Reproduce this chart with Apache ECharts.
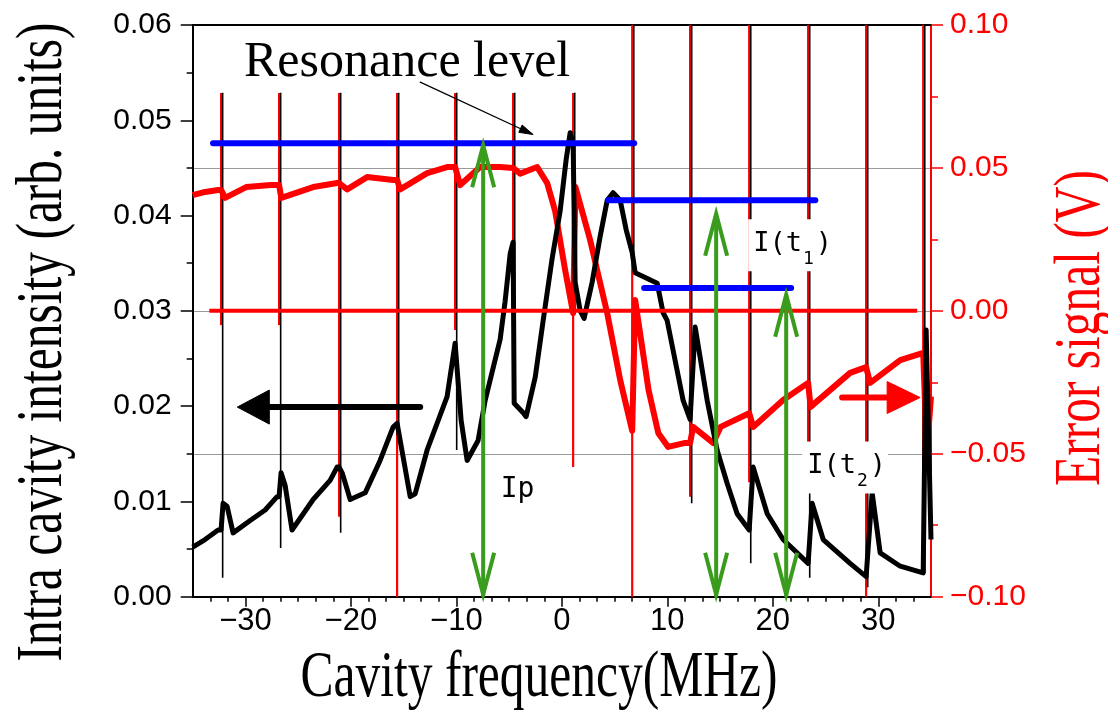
<!DOCTYPE html>
<html>
<head>
<meta charset="utf-8">
<script src="https://cdn.jsdelivr.net/npm/echarts@6/dist/echarts.min.js"></script>
<style>html,body{margin:0;padding:0;background:#fff;}#c{width:1108px;height:716px;}</style>
</head>
<body>
<div id="c"></div>
<script>
// ---------------- data (MHz, values) ----------------
const xMajorTicks = [-30, -20, -10, 0, 10, 20, 30];
const xMinorTicks = [-33.333, -31.667, -28.333, -26.667, -25, -23.333, -21.667, -18.333, -16.667, -15, -13.333, -11.667,
  -8.333, -6.667, -5, -3.333, -1.667, 1.667, 3.333, 5, 6.667, 8.333, 11.667, 13.333, 15, 16.667, 18.333,
  21.667, 23.333, 25, 26.667, 28.333, 31.667, 33.333];

// intra cavity intensity (left axis)
const blackTrace = [[-35.0, 0.0052], [-33.83, 0.0060], [-32.59, 0.0070], [-32.31, 0.0070], [-32.12, 0.0098], [-31.74, 0.0095],
  [-31.17, 0.0067], [-29.55, 0.0080], [-28.13, 0.0091], [-27.0, 0.0105], [-26.81, 0.0105], [-26.62, 0.0130], [-26.24, 0.0117],
  [-25.58, 0.0070], [-23.58, 0.0102], [-21.97, 0.0122], [-21.31, 0.0136], [-21.12, 0.0136], [-20.83, 0.0130], [-20.07, 0.0102],
  [-18.65, 0.0109], [-17.23, 0.0143], [-16.0, 0.0178], [-15.62, 0.0182], [-15.33, 0.0164], [-14.38, 0.0105], [-13.91, 0.0108],
  [-12.77, 0.0154], [-10.88, 0.0210], [-10.12, 0.0266], [-9.55, 0.0185], [-8.98, 0.0143], [-7.94, 0.0164], [-7.27, 0.0206],
  [-5.85, 0.0270], [-5.38, 0.0310], [-4.90, 0.0360], [-4.62, 0.0372], [-4.52, 0.0203], [-3.67, 0.0193], [-3.39, 0.0189],
  [-2.53, 0.0230], [-1.77, 0.0290], [-0.92, 0.0355], [-0.16, 0.0405], [0.41, 0.0459], [0.79, 0.0487], [1.07, 0.0475],
  [1.26, 0.0330], [1.74, 0.0300], [2.11, 0.0292], [2.87, 0.0330], [3.63, 0.0378], [4.30, 0.0416], [4.86, 0.0424],
  [5.53, 0.0416], [6.10, 0.0385], [6.67, 0.0361], [6.95, 0.0340], [7.90, 0.0335], [9.04, 0.0329], [9.60, 0.0298],
  [9.98, 0.0290], [11.50, 0.0206], [12.16, 0.0186], [12.64, 0.0283], [13.78, 0.0206], [14.72, 0.0154], [15.67, 0.0119],
  [16.62, 0.0087], [17.76, 0.0070], [18.14, 0.0136], [19.47, 0.0087], [20.98, 0.0060], [23.35, 0.0035], [23.73, 0.0098],
  [24.78, 0.0060], [27.33, 0.0035], [28.85, 0.0021], [29.42, 0.0109], [30.18, 0.0046], [32.08, 0.0032], [34.26, 0.0025],
  [34.54, 0.0280], [35.0, 0.0060]];
// [x, low, high]
const blackSpikes = [[-32.16, 0.0020, 0.0529], [-26.66, 0.0051, 0.0529], [-20.97, 0.0067, 0.0529], [-15.47, 0.0164, 0.0529],
  [-9.97, 0.0154, 0.0529], [-4.47, 0.0203, 0.0529], [1.22, 0.0300, 0.0529], [6.82, 0.0340, 0.06], [12.31, 0.0098, 0.06],
  [17.91, 0.0035, 0.06], [23.50, 0.0020, 0.06], [29.00, 0.0010, 0.06], [34.41, 0.0025, 0.06]];

// error signal (right axis)
const redTrace = [[-35.0, 0.0405], [-33.83, 0.0416], [-32.59, 0.0423], [-32.31, 0.0423], [-31.93, 0.0395], [-29.93, 0.0433],
  [-27.57, 0.0440], [-26.81, 0.0440], [-26.6, 0.0395], [-23.58, 0.0433], [-21.31, 0.0447], [-21.12, 0.0447], [-20.36, 0.0425],
  [-18.46, 0.0468], [-15.99, 0.0458], [-15.62, 0.0458], [-15.33, 0.0425], [-12.77, 0.0482], [-10.88, 0.0503], [-10.12, 0.0503],
  [-9.64, 0.0440], [-7.75, 0.0503], [-5.85, 0.0503], [-4.62, 0.0500], [-3.95, 0.0480], [-2.34, 0.0503], [-1.39, 0.0447],
  [-0.64, 0.0350], [0.31, 0.0143], [1.07, -0.0008], [1.29, 0.0433], [2.68, 0.0248], [4.30, -0.0008], [5.53, -0.0242],
  [6.67, -0.0420], [6.95, 0.0038], [8.22, -0.0277], [9.14, -0.0427], [10.08, -0.0476], [11.69, -0.0462], [12.16, -0.0462],
  [12.45, -0.0406], [14.34, -0.0462], [15.05, -0.0406], [17.76, -0.0358], [18.14, -0.0406], [20.98, -0.0312], [23.35, -0.0252],
  [23.58, -0.0336], [27.33, -0.0217], [28.85, -0.0197], [29.23, -0.0252], [32.08, -0.0172], [34.26, -0.0147], [34.6, -0.0500],
  [35.0, -0.0300]];
const redSpikes = [[-32.31, -0.005, 0.0762], [-26.81, -0.005, 0.0762], [-21.12, -0.072, 0.0762], [-15.62, -0.1, 0.0762],
  [-10.12, -0.0067, 0.0762], [-4.62, -0.0039, 0.0762], [1.07, -0.0546, 0.0762], [6.67, -0.1, 0.1], [12.16, -0.065, 0.1],
  [17.76, -0.06, 0.1], [23.35, -0.06, 0.1], [28.85, -0.1, 0.1], [34.26, -0.06, 0.1]];
const errorZeroLine = [[-33.42, 0], [33.69, 0]];

// annotations (left axis units)
const resonanceLevels = [[-33.07, 6.86, 0.0476], [4.39, 24.03, 0.0416], [7.80, 21.74, 0.0324]];   // [x0, x1, y]
const doubleArrows = [[-7.46, 0, 0.0476], [14.63, 0, 0.0404], [21.27, 0, 0.0319]];              // [x, y0, y1]
const blackArrow = [[-13.43, 0.0199, -30.77, 0.0199]];                                         // [xFrom, yFrom, xTo, yTo]
const redArrow = [[26.57, 0.0209, 33.97, 0.0209]];
const pointerArrow = [[-13.43, 0.0540, -2.72, 0.0485]];
const plainNotes = [[-14.67, 0.0560, 'Resonance level'], [-4.2, 0.0112, 'Ip']];
const subNotes = [[18.14, 0.0370, 'I(t', '1', ')'], [23.26, 0.01367, 'I(t', '2', ')']];

// ---------------- helpers ----------------
const mctx = document.createElement('canvas').getContext('2d');
function tw(txt, size, fam) { mctx.font = size + 'px ' + fam; return mctx.measureText(txt).width; }
const minus = v => (v < -1e-9 ? '\u2212' : '') + Math.abs(v);
const SERIF = '"Liberation Serif", "Times New Roman", serif';
const SANS = '"Liberation Sans", Arial, sans-serif';
const MONO = '"DejaVu Sans Mono", monospace';

function spikeRenderer(color, width) {
  return function (params, api) {
    const a = api.coord([api.value(0), api.value(1)]);
    const b = api.coord([api.value(0), api.value(2)]);
    return {type: 'line', shape: {x1: a[0], y1: a[1], x2: b[0], y2: b[1]}, style: {stroke: color, lineWidth: width}};
  };
}
function levelRenderer(params, api) {
  const a = api.coord([api.value(0), api.value(2)]);
  const b = api.coord([api.value(1), api.value(2)]);
  return {type: 'line', shape: {x1: a[0], y1: a[1], x2: b[0], y2: b[1]},
    style: {stroke: '#0000ff', lineWidth: 6, lineCap: 'round'}};
}
function doubleArrowRenderer(params, api) {
  const b = api.coord([api.value(0), api.value(1)]);
  const t = api.coord([api.value(0), api.value(2)]);
  const hw = 11, hl = 44;
  const st = {stroke: '#3a9c1c', lineWidth: 4, fill: null};
  return {type: 'group', children: [
    {type: 'line', shape: {x1: b[0], y1: b[1], x2: t[0], y2: t[1] + 2}, style: st},
    {type: 'polyline', shape: {points: [[t[0] - hw, t[1] + hl], [t[0], t[1] + 2], [t[0] + hw, t[1] + hl]]}, style: st},
    {type: 'polyline', shape: {points: [[b[0] - hw, b[1] - hl], [b[0], b[1] - 2], [b[0] + hw, b[1] - hl]]}, style: st}
  ]};
}
function filledArrowRenderer(color, width, headLen, headHalf) {
  return function (params, api) {
    const a = api.coord([api.value(0), api.value(1)]);
    const b = api.coord([api.value(2), api.value(3)]);
    const dx = b[0] - a[0], dy = b[1] - a[1], L = Math.sqrt(dx * dx + dy * dy);
    const ux = dx / L, uy = dy / L, px = -uy, py = ux;
    const base = [b[0] - ux * headLen, b[1] - uy * headLen];
    return {type: 'group', children: [
      {type: 'line', shape: {x1: a[0], y1: a[1], x2: base[0] + ux * 2, y2: base[1] + uy * 2},
        style: {stroke: color, lineWidth: width, lineCap: 'round'}},
      {type: 'polygon', shape: {points: [[b[0], b[1]], [base[0] + px * headHalf, base[1] + py * headHalf],
        [base[0] - px * headHalf, base[1] - py * headHalf]]}, style: {fill: color, stroke: color, lineWidth: 1, lineJoin: 'round'}}
    ]};
  };
}
function plainNoteRenderer(params, api) {
  const p = api.coord([api.value(0), api.value(1)]);
  const txt = plainNotes[params.dataIndex][2];
  const big = params.dataIndex === 0;
  return {type: 'text', x: p[0], y: p[1], style: {text: txt, fill: '#000',
    fontSize: big ? 50 : 28, fontFamily: big ? SERIF : MONO,
    align: 'center', verticalAlign: 'middle', textAlign: 'center', textVerticalAlign: 'middle'}};
}
function subNoteRenderer(params, api) {
  const p = api.coord([api.value(0), api.value(1)]);
  const n = subNotes[params.dataIndex];
  const ms = 27, ss = 18;
  const w1 = tw(n[2], ms, MONO), w2 = tw(n[3], ss, MONO), w3 = tw(n[4], ms, MONO);
  const base = {fill: '#000', fontFamily: MONO, align: 'left', verticalAlign: 'middle', textAlign: 'left', textVerticalAlign: 'middle'};
  return {type: 'group', children: [
    {type: 'rect', shape: {x: p[0] - 5, y: p[1] - 25, width: w1 + w2 + w3 + 10, height: 52}, style: {fill: '#fff'}},
    {type: 'text', x: p[0], y: p[1], style: Object.assign({text: n[2], fontSize: ms}, base)},
    {type: 'text', x: p[0] + w1 + 1, y: p[1] + 15, style: Object.assign({text: n[3], fontSize: ss}, base)},
    {type: 'text', x: p[0] + w1 + w2 + 3, y: p[1], style: Object.assign({text: n[4], fontSize: ms}, base)}
  ]};
}

// ---------------- chart ----------------
const chart = echarts.init(document.getElementById('c'), null, {renderer: 'canvas'});
const option = {
  backgroundColor: '#fff',
  animation: false,
  grid: {left: 192.7, right: 177, top: 25, bottom: 119.3, containLabel: false},
  xAxis: [
    {type: 'value', min: -35, max: 35, position: 'bottom',
      axisLine: {show: true, onZero: false, lineStyle: {color: '#000', width: 2}},
      axisTick: {show: true, customValues: xMajorTicks, length: 10, lineStyle: {color: '#000', width: 1.5}},
      axisLabel: {customValues: xMajorTicks, formatter: minus, fontSize: 31, margin: 9, color: '#000',
        fontFamily: '"Liberation Sans Narrow", "Liberation Sans", Arial'},
      splitLine: {show: false}},
    {type: 'value', min: -35, max: 35, position: 'bottom',
      axisLine: {show: false, onZero: false},
      axisTick: {show: true, customValues: xMinorTicks, length: 5, lineStyle: {color: '#000', width: 1.5}},
      axisLabel: {show: false}, splitLine: {show: false}},
    {type: 'value', min: -35, max: 35, position: 'top',
      axisLine: {show: true, onZero: false, lineStyle: {color: '#000', width: 2}},
      axisTick: {show: false}, axisLabel: {show: false}, splitLine: {show: false}}
  ],
  yAxis: [
    {type: 'value', min: 0, max: 0.06, interval: 0.01, position: 'left',
      axisLine: {show: true, onZero: false, lineStyle: {color: '#000', width: 2}},
      axisTick: {show: true, length: 12, lineStyle: {color: '#000', width: 1.5}},
      minorTick: {show: true, splitNumber: 2, length: 6, lineStyle: {color: '#000', width: 1.5}},
      axisLabel: {formatter: v => v.toFixed(2), fontSize: 30, margin: 21, color: '#000', fontFamily: SANS},
      splitLine: {show: false}},
    {type: 'value', min: -0.1, max: 0.1, interval: 0.05, position: 'right',
      axisLine: {show: true, onZero: false, lineStyle: {color: '#ff0000', width: 2}},
      axisTick: {show: true, length: 12, lineStyle: {color: '#ff0000', width: 1.5}},
      minorTick: {show: true, splitNumber: 2, length: 7, lineStyle: {color: '#ff0000', width: 1.5}},
      axisLabel: {formatter: v => (v < -1e-9 ? '\u2212' : '') + Math.abs(v).toFixed(2), fontSize: 30, margin: 19,
        color: '#ff0000', fontFamily: SANS},
      splitLine: {show: true, lineStyle: {color: '#9a9a9a', width: 1}}}
  ],
  series: [
    {type: 'custom', name: 'redSpikes', xAxisIndex: 0, yAxisIndex: 1, data: redSpikes, renderItem: spikeRenderer('#ff0000', 2.2), z: 2},
    {type: 'custom', name: 'blackSpikes', xAxisIndex: 0, yAxisIndex: 0, data: blackSpikes, renderItem: spikeRenderer('#000', 1.6), z: 2},
    {type: 'line', name: 'Error signal', xAxisIndex: 0, yAxisIndex: 1, data: redTrace, showSymbol: false, symbol: 'none',
      lineStyle: {color: '#ff0000', width: 6, join: 'round'}, z: 3},
    {type: 'line', name: 'Intensity', xAxisIndex: 0, yAxisIndex: 0, data: blackTrace, showSymbol: false, symbol: 'none',
      lineStyle: {color: '#000', width: 5, join: 'round'}, z: 4},
    {type: 'line', name: 'zero', xAxisIndex: 0, yAxisIndex: 1, data: errorZeroLine, showSymbol: false, symbol: 'none',
      lineStyle: {color: '#ff0000', width: 4}, z: 5},
    {type: 'custom', name: 'levels', xAxisIndex: 0, yAxisIndex: 0, data: resonanceLevels, renderItem: levelRenderer, z: 6},
    {type: 'custom', name: 'arrows', xAxisIndex: 0, yAxisIndex: 0, data: doubleArrows, renderItem: doubleArrowRenderer, z: 7},
    {type: 'custom', name: 'blackArrow', xAxisIndex: 0, yAxisIndex: 0, data: blackArrow, renderItem: filledArrowRenderer('#000', 6, 32, 17), z: 7},
    {type: 'custom', name: 'redArrow', xAxisIndex: 0, yAxisIndex: 0, data: redArrow, renderItem: filledArrowRenderer('#ff0000', 6, 33, 16), z: 7},
    {type: 'custom', name: 'pointer', xAxisIndex: 0, yAxisIndex: 0, data: pointerArrow, renderItem: filledArrowRenderer('#000', 1.3, 14, 4), z: 7},
    {type: 'custom', name: 'notes', xAxisIndex: 0, yAxisIndex: 0, data: plainNotes.map(d => [d[0], d[1]]), renderItem: plainNoteRenderer, z: 8},
    {type: 'custom', name: 'subNotes', xAxisIndex: 0, yAxisIndex: 0, data: subNotes.map(d => [d[0], d[1]]), renderItem: subNoteRenderer, z: 8}
  ],
  graphic: [
    {type: 'text', x: 539, y: 679, scaleX: 0.75, z: 10,
      style: {text: 'Cavity frequency(MHz)', fontSize: 66, fontFamily: SERIF, fill: '#000',
        align: 'center', verticalAlign: 'middle', textAlign: 'center', textVerticalAlign: 'middle'}},
    {type: 'text', x: 44, y: 342, scaleX: 0.75, rotation: Math.PI / 2, z: 10,
      style: {text: 'Intra cavity intensity (arb. units)', fontSize: 66, fontFamily: SERIF, fill: '#000',
        align: 'center', verticalAlign: 'middle', textAlign: 'center', textVerticalAlign: 'middle'}},
    {type: 'text', x: 1082, y: 328, scaleX: 0.75, rotation: Math.PI / 2, z: 10,
      style: {text: 'Error signal (V)', fontSize: 66, fontFamily: SERIF, fill: '#ff0000',
        align: 'center', verticalAlign: 'middle', textAlign: 'center', textVerticalAlign: 'middle'}}
  ]
};
chart.setOption(option);
</script>
</body>
</html>
